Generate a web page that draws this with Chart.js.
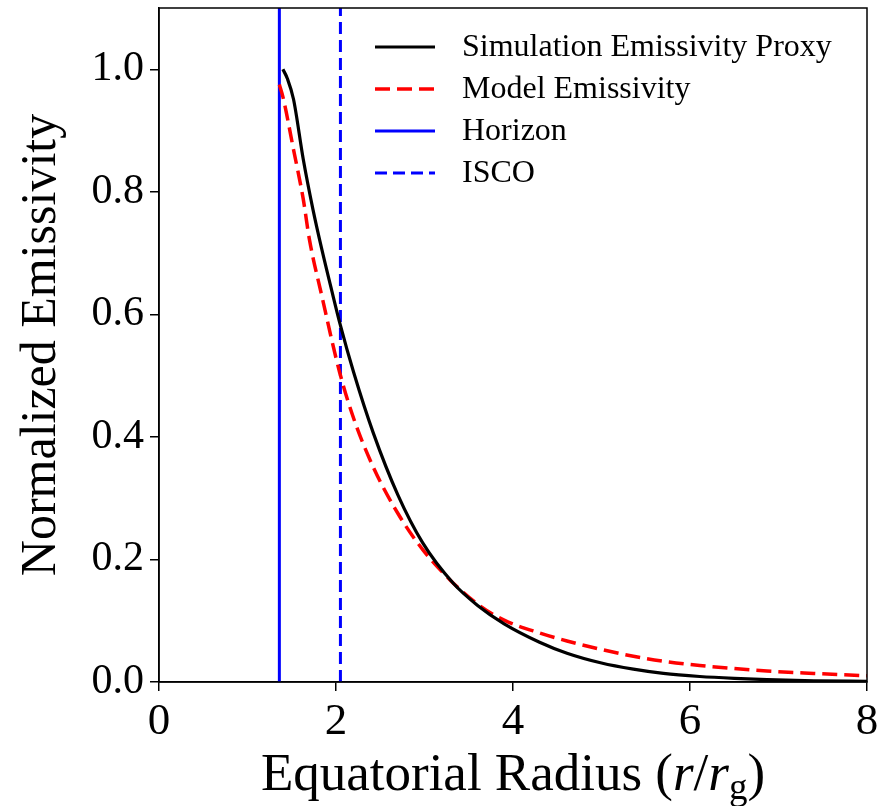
<!DOCTYPE html>
<html>
<head>
<meta charset="utf-8">
<script src="https://cdn.jsdelivr.net/npm/chart.js@4.4.1/dist/chart.umd.min.js"></script>
<style>
  html, body { margin: 0; padding: 0; background: #fff; }
  #wrap { width: 884px; height: 806px; position: relative; }
</style>
</head>
<body>
<div id="wrap"><canvas id="emisChart"></canvas></div>
<script>
// values
const simRadius = [1.40, 1.45, 1.52, 1.63, 1.74, 1.84, 1.95, 2.05, 2.20, 2.42, 2.70, 2.98, 3.32, 3.60, 3.90, 4.30, 4.61, 5.00, 5.36, 5.70, 6.11, 6.50, 6.87, 7.40, 8.00];
const simEmis = [1.000, 0.985, 0.951, 0.853, 0.771, 0.706, 0.640, 0.582, 0.505, 0.407, 0.305, 0.227, 0.162, 0.125, 0.095, 0.065, 0.047, 0.031, 0.021, 0.014, 0.009, 0.006, 0.004, 0.002, 0.001];

const modelRadius = [1.36, 1.40, 1.52, 1.63, 1.70, 1.84, 2.04, 2.20, 2.42, 2.70, 2.98, 3.30, 3.62, 3.90, 4.30, 4.61, 5.00, 5.36, 5.70, 6.11, 6.50, 6.87, 7.40, 8.00];
const modelEmis = [0.975, 0.955, 0.869, 0.788, 0.722, 0.630, 0.506, 0.430, 0.351, 0.275, 0.216, 0.165, 0.125, 0.101, 0.080, 0.067, 0.053, 0.042, 0.034, 0.027, 0.022, 0.018, 0.014, 0.010];

const horizonR = 1.36;
const iscoR = 2.05;
const xTicks = [0, 2, 4, 6, 8];
const yTicks = [0, 0.2, 0.4, 0.6, 0.8, 1.0];

const serif = "'Liberation Serif', 'DejaVu Serif', serif";

function toPoints(xs, ys) {
  return xs.map((x, i) => ({ x: x, y: ys[i] }));
}

// box around the plot + legend in the upper right + x title with r/r_g
const figurePlugin = {
  id: "figurePlugin",
  afterDraw(chart) {
    const ctx = chart.ctx;
    const area = chart.chartArea;
    ctx.save();
    ctx.strokeStyle = "#000";
    ctx.lineWidth = 1.5;
    ctx.strokeRect(area.left, area.top, area.right - area.left, area.bottom - area.top);

    // legend
    const lx = 375, ly = 47, rowGap = 42, lineLen = 60;
    ctx.font = "32px " + serif;
    ctx.textBaseline = "middle";
    ctx.fillStyle = "#000";
    chart.data.datasets.forEach((ds, i) => {
      const y = ly + i * rowGap;
      ctx.beginPath();
      ctx.setLineDash(ds.borderDash || []);
      ctx.lineWidth = ds.borderWidth;
      ctx.strokeStyle = ds.borderColor;
      ctx.moveTo(lx, y);
      ctx.lineTo(lx + lineLen, y);
      ctx.stroke();
      ctx.setLineDash([]);
      ctx.fillText(ds.label, 462, y + 1);
    });

    // x axis title
    const parts = [
      { t: "Equatorial Radius (", f: "53px " + serif, dy: 0 },
      { t: "r", f: "italic 53px " + serif, dy: 0 },
      { t: "/", f: "53px " + serif, dy: 0 },
      { t: "r", f: "italic 53px " + serif, dy: 0 },
      { t: "g", f: "37px " + serif, dy: 9 },
      { t: ")", f: "53px " + serif, dy: 0 }
    ];
    let total = 0;
    parts.forEach(p => { ctx.font = p.f; p.w = ctx.measureText(p.t).width; total += p.w; });
    let x = (area.left + area.right) / 2 - total / 2;
    ctx.textBaseline = "alphabetic";
    parts.forEach(p => {
      ctx.font = p.f;
      ctx.fillText(p.t, x, 790 + p.dy);
      x += p.w;
    });
    ctx.restore();
  }
};

const ctx = document.getElementById("emisChart").getContext("2d");
new Chart(ctx, {
  type: "line",
  data: {
    datasets: [
      {
        label: "Simulation Emissivity Proxy",
        data: toPoints(simRadius, simEmis),
        borderColor: "#000000",
        borderWidth: 3.2,
        pointRadius: 0,
        cubicInterpolationMode: "monotone"
      },
      {
        label: "Model Emissivity",
        data: toPoints(modelRadius, modelEmis),
        borderColor: "#ff0000",
        borderWidth: 3.5,
        borderDash: [15, 7],
        pointRadius: 0,
        cubicInterpolationMode: "monotone"
      },
      {
        label: "Horizon",
        data: [{ x: horizonR, y: 0 }, { x: horizonR, y: 1.1 }],
        borderColor: "#0000ff",
        borderWidth: 3,
        pointRadius: 0
      },
      {
        label: "ISCO",
        data: [{ x: iscoR, y: 0 }, { x: iscoR, y: 1.1 }],
        borderColor: "#0000ff",
        borderWidth: 3,
        borderDash: [12, 6],
        pointRadius: 0
      }
    ]
  },
  options: {
    responsive: true,
    maintainAspectRatio: false,
    animation: false,
    layout: { padding: { top: 8, right: 17, left: 0, bottom: 0 } },
    plugins: {
      legend: { display: false },
      tooltip: { enabled: false }
    },
    scales: {
      x: {
        type: "linear",
        min: 0,
        max: 8,
        afterBuildTicks: scale => { scale.ticks = xTicks.map(v => ({ value: v })); },
        afterFit: scale => { scale.height = 124; scale.paddingLeft = 0; scale.paddingRight = 0; },
        grid: { drawOnChartArea: false, drawTicks: true, tickLength: 9, color: "#000", lineWidth: 1.5 },
        border: { display: true, color: "#000", width: 1.5 },
        ticks: {
          color: "#000",
          padding: 4,
          font: { family: serif, size: 45 },
          maxRotation: 0,
          callback: v => String(v)
        }
      },
      y: {
        type: "linear",
        min: 0,
        max: 1.1,
        afterBuildTicks: scale => { scale.ticks = yTicks.map(v => ({ value: v })); },
        afterFit: scale => { scale.width = 159; scale.paddingTop = 0; scale.paddingBottom = 0; },
        grid: { drawOnChartArea: false, drawTicks: true, tickLength: 9, color: "#000", lineWidth: 1.5 },
        border: { display: true, color: "#000", width: 1.5 },
        title: {
          display: true,
          text: "Normalized Emissivity",
          color: "#000",
          font: { family: serif, size: 50 },
          padding: { top: 12, bottom: 0 }
        },
        ticks: {
          color: "#000",
          padding: 6,
          font: { family: serif, size: 42 },
          callback: v => v.toFixed(1)
        }
      }
    }
  },
  plugins: [figurePlugin]
});
</script>
</body>
</html>
